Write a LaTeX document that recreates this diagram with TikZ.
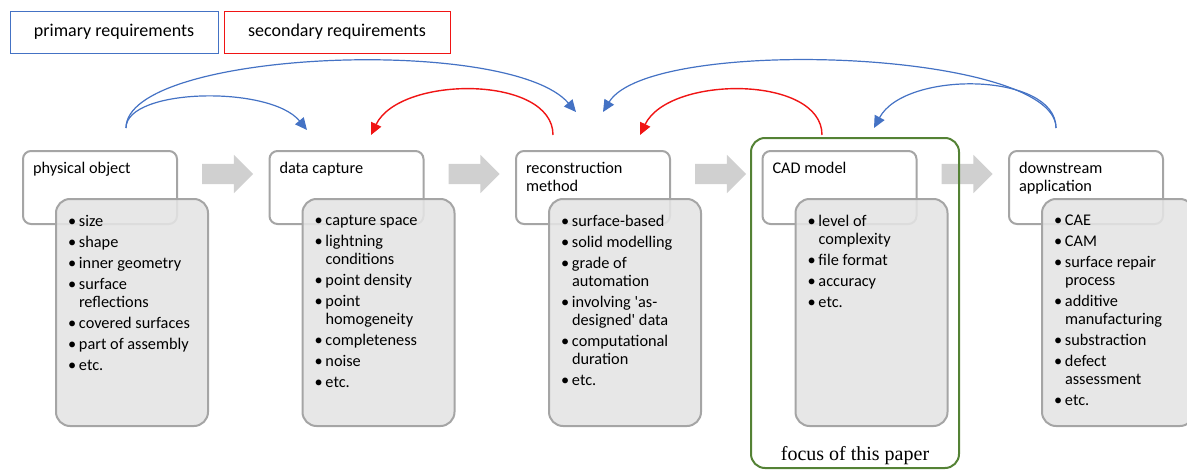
\documentclass[tikz,border=0pt]{standalone}
\usepackage{fontspec}
\setmainfont{Carlito}
\newfontfamily\paperfont{Liberation Serif}
\usetikzlibrary{shapes.arrows}
\usetikzlibrary{arrows.meta}
\usetikzlibrary{positioning}

\definecolor{primblue}{RGB}{68,114,196}
\definecolor{secred}{RGB}{240,20,20}
\definecolor{boxgray}{RGB}{165,165,165}
\definecolor{listfill}{RGB}{228,228,228}
\definecolor{flowgray}{RGB}{208,208,208}
\definecolor{focusgreen}{RGB}{84,130,53}

% one bullet of a requirement list
\newcommand{\req}[1]{\par\hangindent=11pt\hangafter=1\noindent\makebox[11pt][l]{\textbullet}#1\par}
\newcommand{\reqlist}[1]{\begin{minipage}[t][205pt][t]{128pt}\fontsize{16.3}{18}\selectfont\parskip=3pt\vspace*{5pt}#1\end{minipage}}
\newcommand{\steptitle}[1]{\begin{minipage}[t][51pt][t]{134pt}\raggedright\fontsize{16.3}{18}\selectfont#1\end{minipage}}

\begin{document}
\begin{tikzpicture}[x=1pt,y=-1pt,
  legend box/.style={draw,line width=1pt,minimum width=#1,minimum height=42pt,inner sep=0pt,font=\fontsize{18}{20}\selectfont},
  title box/.style={draw=boxgray,fill=white,line width=2pt,rounded corners=8pt,anchor=north west,inner xsep=10pt,inner ysep=11pt},
  list box/.style={draw=boxgray,fill=listfill,fill opacity=0.88,text opacity=1,line width=2pt,rounded corners=14pt,anchor=north west,inner xsep=12pt,inner ysep=11pt},
  flow arrow/.style={single arrow,fill=flowgray,inner xsep=0pt,inner ysep=10pt,minimum height=51pt,single arrow head extend=9pt},
  prim/.style={draw=primblue,line width=1.2pt,-{Triangle[length=12pt,width=11pt]}},
  sec/.style={draw=secred,line width=1.4pt,-{Triangle[length=12pt,width=11pt]}}]

\useasboundingbox (0,0) rectangle (1187,471);

% legend
\node[legend box=208pt,draw=primblue] at (114,32) (primary) {primary requirements};
\node[legend box=226pt,draw=secred] at (337,32) (secondary) {secondary requirements};

% process steps
\node[title box] at (22,150) (object) {\steptitle{physical object}};
\node[title box] at (268.5,150) (capture) {\steptitle{data capture}};
\node[title box] at (515,150) (method) {\steptitle{reconstruction\\method}};
\node[title box] at (761.5,150) (cad) {\steptitle{CAD model}};
\node[title box] at (1008,150) (application) {\steptitle{downstream\\application}};

% requirement lists
\node[list box] at (55,198) (object list) {\reqlist{%
  \req{size}\req{shape}\req{inner geometry}\req{surface\\reflections}%
  \req{covered surfaces}\req{part of assembly}\req{etc.}}};
\node[list box] at (301.5,198) (capture list) {\reqlist{%
  \req{capture space}\req{lightning\\conditions}\req{point density}%
  \req{point\\homogeneity}\req{completeness}\req{noise}\req{etc.}}};
\node[list box] at (548,198) (method list) {\reqlist{%
  \req{surface-based}\req{solid modelling}\req{grade of\\automation}%
  \req{involving \textquotesingle as-\\designed\textquotesingle{} data}%
  \req{computational\\duration}\req{etc.}}};
\node[list box] at (794.5,198) (cad list) {\reqlist{%
  \req{level of\\complexity}\req{file format}\req{accuracy}\req{etc.}}};
\node[list box] at (1041,198) (application list) {\reqlist{%
  \req{CAE}\req{CAM}\req{surface repair\\process}\req{additive\\manufacturing}%
  \req{substraction}\req{defect\\assessment}\req{etc.}}};

% flow between steps
\node[flow arrow] at (222.5,174) (flow1) {};
\node[flow arrow] at (469,174) (flow2) {};
\node[flow arrow] at (715.5,174) (flow3) {};
\node[flow arrow] at (962,174) (flow4) {};

% focus
\node[draw=focusgreen,line width=2pt,rounded corners=14pt,minimum width=208pt,minimum height=330pt,anchor=north west] at (750,137) (focus) {};
\node[above=1pt of focus.south,font=\paperfont\fontsize{20}{22}\selectfont] (focus label) {focus of this paper};

% requirement links
\coordinate (object top) at (126,128);
\coordinate (capture in) at (307,130);
\coordinate (method in) at (576,112);
\coordinate (method in2) at (603,112);
\coordinate (method top) at (553,135);
\coordinate (capture in2) at (371,135);
\coordinate (cad top) at (822,135);
\coordinate (method in3) at (640,135);
\coordinate (cad in) at (874,128);
\coordinate (application top) at (1056,128);

\draw[prim] (object top) .. controls +(0,-40) and +(-37,-45) .. (capture in);
\draw[prim] (object top) .. controls +(0,-78) and +(-66,-77) .. (method in);
\draw[prim] (application top) .. controls +(0,-78) and +(47,-77) .. (method in2);
\draw[prim] (application top) .. controls +(0,-56) and +(31,-58) .. (cad in);
\draw[sec] (method top) .. controls +(0,-60) and +(29,-60) .. (capture in2);
\draw[sec] (cad top) .. controls +(0,-60) and +(29,-60) .. (method in3);

\end{tikzpicture}
\end{document}
